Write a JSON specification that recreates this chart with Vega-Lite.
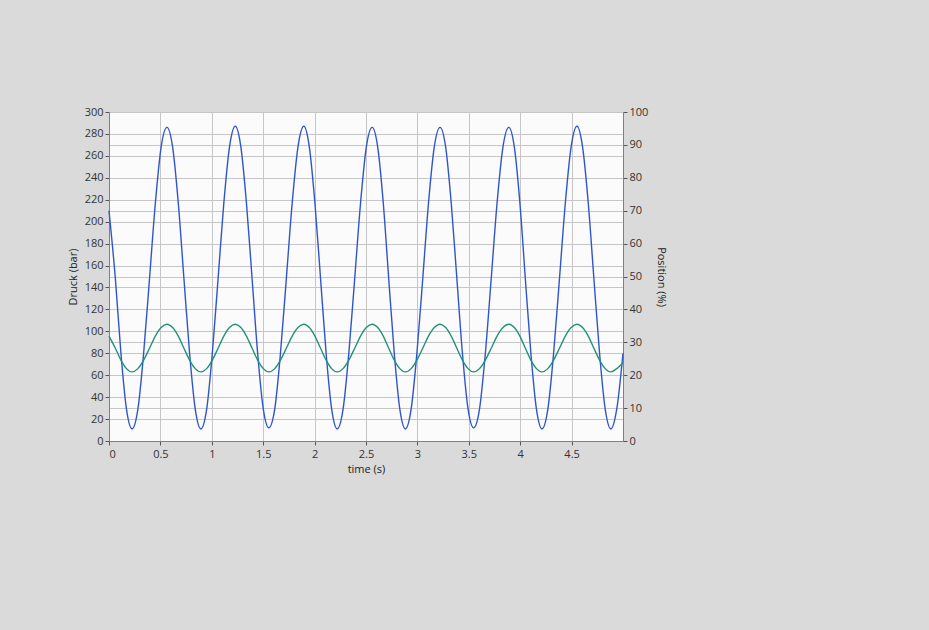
{
  "$schema": "https://vega.github.io/schema/vega-lite/v6.json",
  "width": 514,
  "height": 329,
  "autosize": {"type": "none"},
  "padding": {"left": 109, "top": 112, "right": 306, "bottom": 189},
  "background": "#dadada",
  "config": {
    "font": "Open Sans",
    "view": {"fill": "#fbfbfb", "stroke": null},
    "axis": {
      "labelFont": "Open Sans",
      "labelFontSize": 11,
      "labelColor": "#333333",
      "titleFont": "Open Sans",
      "titleFontSize": 11,
      "titleFontWeight": "normal",
      "titleColor": "#222222",
      "domainColor": "#808080",
      "tickColor": "#555555",
      "tickSize": 4,
      "gridColor": "#c6c6c6",
      "gridWidth": 1,
      "gridOpacity": 1
    }
  },
  "data": {
    "values": [
      {"t": 0.000, "p": 210, "pos": 31.9},
      {"t": 0.062, "p": 148, "pos": 28.2},
      {"t": 0.116, "p": 80, "pos": 24.6},
      {"t": 0.170, "p": 29, "pos": 22.0},
      {"t": 0.224, "p": 11, "pos": 21.0},
      {"t": 0.281, "p": 29, "pos": 22.0},
      {"t": 0.337, "p": 80, "pos": 24.6},
      {"t": 0.394, "p": 148, "pos": 28.2},
      {"t": 0.451, "p": 217, "pos": 31.9},
      {"t": 0.507, "p": 268, "pos": 34.5},
      {"t": 0.564, "p": 286, "pos": 35.5},
      {"t": 0.619, "p": 268, "pos": 34.5},
      {"t": 0.674, "p": 217, "pos": 31.9},
      {"t": 0.729, "p": 148, "pos": 28.2},
      {"t": 0.784, "p": 80, "pos": 24.6},
      {"t": 0.839, "p": 29, "pos": 22.0},
      {"t": 0.894, "p": 11, "pos": 21.0},
      {"t": 0.950, "p": 29, "pos": 22.0},
      {"t": 1.005, "p": 80, "pos": 24.6},
      {"t": 1.061, "p": 148, "pos": 28.2},
      {"t": 1.117, "p": 217, "pos": 31.9},
      {"t": 1.172, "p": 268, "pos": 34.5},
      {"t": 1.228, "p": 287, "pos": 35.5},
      {"t": 1.283, "p": 268, "pos": 34.5},
      {"t": 1.337, "p": 217, "pos": 31.9},
      {"t": 1.392, "p": 148, "pos": 28.2},
      {"t": 1.446, "p": 80, "pos": 24.6},
      {"t": 1.501, "p": 29, "pos": 22.0},
      {"t": 1.555, "p": 12, "pos": 21.0},
      {"t": 1.612, "p": 29, "pos": 22.0},
      {"t": 1.668, "p": 80, "pos": 24.6},
      {"t": 1.725, "p": 148, "pos": 28.2},
      {"t": 1.782, "p": 217, "pos": 31.9},
      {"t": 1.838, "p": 268, "pos": 34.5},
      {"t": 1.895, "p": 287, "pos": 35.5},
      {"t": 1.949, "p": 268, "pos": 34.5},
      {"t": 2.003, "p": 217, "pos": 31.9},
      {"t": 2.058, "p": 148, "pos": 28.2},
      {"t": 2.112, "p": 80, "pos": 24.6},
      {"t": 2.166, "p": 29, "pos": 22.0},
      {"t": 2.220, "p": 11, "pos": 21.0},
      {"t": 2.277, "p": 29, "pos": 22.0},
      {"t": 2.333, "p": 80, "pos": 24.6},
      {"t": 2.390, "p": 148, "pos": 28.2},
      {"t": 2.447, "p": 217, "pos": 31.9},
      {"t": 2.503, "p": 268, "pos": 34.5},
      {"t": 2.560, "p": 286, "pos": 35.5},
      {"t": 2.614, "p": 268, "pos": 34.5},
      {"t": 2.668, "p": 217, "pos": 31.9},
      {"t": 2.721, "p": 148, "pos": 28.2},
      {"t": 2.775, "p": 80, "pos": 24.6},
      {"t": 2.829, "p": 29, "pos": 22.0},
      {"t": 2.883, "p": 11, "pos": 21.0},
      {"t": 2.939, "p": 29, "pos": 22.0},
      {"t": 2.995, "p": 80, "pos": 24.6},
      {"t": 3.052, "p": 148, "pos": 28.2},
      {"t": 3.108, "p": 217, "pos": 31.9},
      {"t": 3.164, "p": 268, "pos": 34.5},
      {"t": 3.220, "p": 286, "pos": 35.5},
      {"t": 3.275, "p": 268, "pos": 34.5},
      {"t": 3.329, "p": 217, "pos": 31.9},
      {"t": 3.384, "p": 148, "pos": 28.2},
      {"t": 3.438, "p": 80, "pos": 24.6},
      {"t": 3.493, "p": 29, "pos": 22.0},
      {"t": 3.547, "p": 12, "pos": 21.0},
      {"t": 3.604, "p": 29, "pos": 22.0},
      {"t": 3.661, "p": 80, "pos": 24.6},
      {"t": 3.718, "p": 148, "pos": 28.2},
      {"t": 3.775, "p": 217, "pos": 31.9},
      {"t": 3.832, "p": 268, "pos": 34.5},
      {"t": 3.889, "p": 286, "pos": 35.5},
      {"t": 3.943, "p": 268, "pos": 34.5},
      {"t": 3.997, "p": 217, "pos": 31.9},
      {"t": 4.050, "p": 148, "pos": 28.2},
      {"t": 4.104, "p": 80, "pos": 24.6},
      {"t": 4.158, "p": 29, "pos": 22.0},
      {"t": 4.212, "p": 11, "pos": 21.0},
      {"t": 4.269, "p": 29, "pos": 22.0},
      {"t": 4.325, "p": 80, "pos": 24.6},
      {"t": 4.382, "p": 148, "pos": 28.2},
      {"t": 4.439, "p": 217, "pos": 31.9},
      {"t": 4.495, "p": 268, "pos": 34.5},
      {"t": 4.552, "p": 287, "pos": 35.5},
      {"t": 4.607, "p": 268, "pos": 34.5},
      {"t": 4.662, "p": 217, "pos": 31.9},
      {"t": 4.717, "p": 148, "pos": 28.2},
      {"t": 4.772, "p": 80, "pos": 24.6},
      {"t": 4.827, "p": 29, "pos": 22.0},
      {"t": 4.882, "p": 11, "pos": 21.0},
      {"t": 4.939, "p": 29, "pos": 22.0},
      {"t": 5.000, "p": 80, "pos": 23.8}
    ]
  },
  "encoding": {
    "x": {
      "field": "t",
      "type": "quantitative",
      "scale": {"domain": [0, 5], "nice": false},
      "axis": {
        "title": "time (s)",
        "values": [0, 0.5, 1, 1.5, 2, 2.5, 3, 3.5, 4, 4.5],
        "format": "~g",
        "labelPadding": 3,
        "titlePadding": 4,
        "grid": true
      }
    }
  },
  "layer": [
    {
      "mark": {"type": "line", "color": "#2f55cc", "strokeWidth": 1.4, "interpolate": "monotone"},
      "encoding": {
        "y": {
          "field": "p",
          "type": "quantitative",
          "scale": {"domain": [0, 300], "nice": false},
          "axis": {
            "orient": "left",
            "title": "Druck (bar)",
            "values": [0, 20, 40, 60, 80, 100, 120, 140, 160, 180, 200, 220, 240, 260, 280, 300],
            "labelPadding": 2,
            "titlePadding": 6,
            "grid": true
          }
        }
      }
    },
    {
      "mark": {"type": "line", "color": "#23917a", "strokeWidth": 1.4, "interpolate": "monotone"},
      "encoding": {
        "y": {
          "field": "pos",
          "type": "quantitative",
          "scale": {"domain": [0, 100], "nice": false},
          "axis": {
            "orient": "right",
            "title": "Position (%)",
            "values": [0, 10, 20, 30, 40, 50, 60, 70, 80, 90, 100],
            "labelPadding": 2,
            "titlePadding": 8,
            "grid": true
          }
        }
      }
    }
  ],
  "resolve": {"scale": {"y": "independent"}}
}
